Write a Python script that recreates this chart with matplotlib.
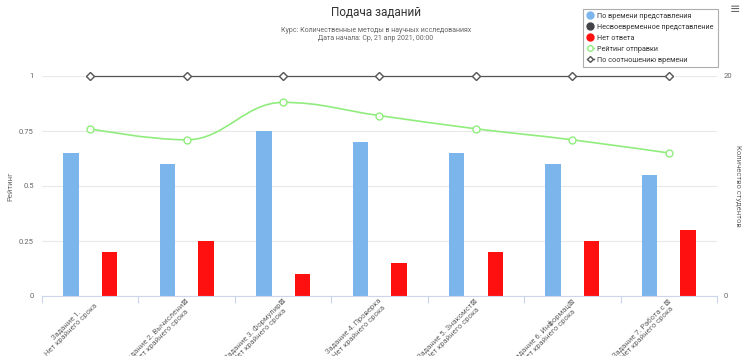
import matplotlib
matplotlib.use("Agg")
import matplotlib.pyplot as plt
import matplotlib.transforms as mtransforms
import numpy as np
from matplotlib.path import Path
from matplotlib.patches import PathPatch
from matplotlib.lines import Line2D

plt.rcParams['font.family'] = ['Roboto', 'DejaVu Sans']

categories = [
    "Задание 1.\nНет крайнего срока",
    "Задание 2. Вычислени⊠\nНет крайнего срока",
    "Задание 3. Формулир⊠\nНет крайнего срока",
    "Задание 4. Проверка\nНет крайнего срока",
    "Задание 5. Знакомст⊠\nНет крайнего срока",
    "Задание 6. Информац⊠\nНет крайнего срока",
    "Задание 7. Работа с ⊠\nНет крайнего срока",
]
on_time = [13, 12, 15, 14, 13, 12, 11]
late = [0, 0, 0, 0, 0, 0, 0]
no_answer = [4, 5, 2, 3, 4, 5, 6]
rating = [0.76, 0.71, 0.88, 0.82, 0.76, 0.71, 0.65]
time_ratio = [1, 1, 1, 1, 1, 1, 1]
left_ticks = [0, 0.25, 0.5, 0.75, 1]
left_labels = ["0", "0.25", "0.5", "0.75", "1"]
right_ticks = [0, 5, 10, 15, 20]
right_labels = ["0", "", "", "", "20"]

C_BLUE = "#7cb5ec"
C_BLACK = "#434348"
C_RED = "#ff1010"
C_GREEN = "#90ed7d"
C_GRAY = "#555555"

fig = plt.figure(figsize=(7.43, 3.56), dpi=100)
ax = fig.add_axes([42/743, 60/356, 675/743, 220/356])
ax2 = ax.twinx()
ax.set_zorder(ax2.get_zorder() + 1)
ax.patch.set_visible(False)

x = np.arange(len(categories))
w = 0.16
ax2.bar(x - 0.2, on_time, w, color=C_BLUE, zorder=2)
ax2.bar(x, late, w, color=C_BLACK, zorder=2)
ax2.bar(x + 0.2, no_answer, w, color=C_RED, zorder=2)
ax2.set_ylim(0, 20)
ax2.set_yticks(right_ticks)
ax2.set_yticklabels(right_labels)
ax2.yaxis.grid(True, color="#e9e9e9", linewidth=0.8)
ax2.set_axisbelow(True)
ax2.tick_params(axis="y", length=0, labelsize=5.5, labelcolor="#666666", pad=5)
ax2.set_ylabel("Количество студентов", rotation=-90, fontsize=5.5, color="#666666",
               va="center")
ax2.yaxis.set_label_coords((738 - 42) / 675, 0.5)

ax.set_xlim(-0.5, len(categories) - 0.5)
ax.set_ylim(0, 1)
ax.set_yticks(left_ticks)
ax.set_yticklabels(left_labels)
ax.tick_params(axis="y", length=0, labelsize=5.5, labelcolor="#666666", pad=6)
ax.set_ylabel("Рейтинг", fontsize=5.5, color="#666666", va="center")
ax.yaxis.set_label_coords((10 - 42) / 675, 0.5)

# category boundaries ticks
ax.set_xticks(np.arange(-0.5, len(categories) + 0.5, 1), minor=False)
ax.set_xticklabels([])
ax.tick_params(axis="x", which="major", length=5, color="#ccd6eb", width=0.8)
ax.set_xticks(x, minor=True)
ax.set_xticklabels(categories, minor=True, rotation=45, ha="right", va="top",
                   rotation_mode="anchor", fontsize=5.5, color="#666666",
                   multialignment="center")
ax.tick_params(axis="x", which="minor", length=0, pad=1)
offset = mtransforms.ScaledTranslation(-1 / 100, 0, fig.dpi_scale_trans)
for lbl in ax.xaxis.get_minorticklabels():
    lbl.set_transform(lbl.get_transform() + offset)

for s in ["top", "left", "right"]:
    ax.spines[s].set_visible(False)
    ax2.spines[s].set_visible(False)
ax.spines["bottom"].set_color("#ccd6eb")
ax.spines["bottom"].set_linewidth(0.8)
ax2.spines["bottom"].set_visible(False)

# Highcharts-style spline for rating
def spline_path(xs, ys, smoothing=1.5):
    n = len(xs)
    denom = smoothing + 1
    lc = [(xs[i], ys[i]) for i in range(n)]
    rc = [(xs[i], ys[i]) for i in range(n)]
    for i in range(1, n - 1):
        px, py = xs[i - 1], ys[i - 1]
        nx, ny = xs[i + 1], ys[i + 1]
        lcx = (smoothing * xs[i] + px) / denom
        lcy = (smoothing * ys[i] + py) / denom
        rcx = (smoothing * xs[i] + nx) / denom
        rcy = (smoothing * ys[i] + ny) / denom
        if rcx != lcx:
            corr = ((rcy - lcy) * (rcx - xs[i])) / (rcx - lcx) + ys[i] - rcy
            lcy += corr
            rcy += corr
        if lcy > max(py, ys[i]):
            lcy = max(py, ys[i]); rcy = 2 * ys[i] - lcy
        elif lcy < min(py, ys[i]):
            lcy = min(py, ys[i]); rcy = 2 * ys[i] - lcy
        if rcy > max(ny, ys[i]):
            rcy = max(ny, ys[i]); lcy = 2 * ys[i] - rcy
        elif rcy < min(ny, ys[i]):
            rcy = min(ny, ys[i]); lcy = 2 * ys[i] - rcy
        lc[i] = (lcx, lcy)
        rc[i] = (rcx, rcy)
    verts = [(xs[0], ys[0])]
    codes = [Path.MOVETO]
    for i in range(1, n):
        verts += [rc[i - 1], lc[i], (xs[i], ys[i])]
        codes += [Path.CURVE4] * 3
    return Path(verts, codes)

ax.add_patch(PathPatch(spline_path(list(x.astype(float)), rating), facecolor="none",
                       edgecolor=C_GREEN, linewidth=1.2, zorder=3))
ax.plot(x, rating, linestyle="none", marker="o", markersize=5, markerfacecolor="white",
        markeredgecolor=C_GREEN, markeredgewidth=1, zorder=4, clip_on=False)
ax.plot(x, time_ratio, color=C_GRAY, linewidth=0.9, marker="D", markersize=3.6,
        markerfacecolor="white", markeredgecolor=C_GRAY, markeredgewidth=1,
        zorder=4, clip_on=False)

fig.text(0.506, 1 - 12/356, "Подача заданий", ha="center", va="center",
         fontsize=8.5, color="#333333")
fig.text(0.506, 1 - 30/356, "Курс: Количественные методы в научных исследованиях",
         ha="center", va="center", fontsize=5, color="#666666")
fig.text(0.506, 1 - 39/356, "Дата начала: Ср, 21 апр 2021, 00:00",
         ha="center", va="center", fontsize=5, color="#666666")
fig.text(735/743, 1 - 9/356, "≡", ha="center", va="center", fontsize=9, color="#666666",
         family="DejaVu Sans")

handles = [
    Line2D([], [], linestyle="none", marker="o", markersize=5, color=C_BLUE),
    Line2D([], [], linestyle="none", marker="o", markersize=5, color=C_BLACK),
    Line2D([], [], linestyle="none", marker="o", markersize=5, color=C_RED),
    Line2D([], [], color=C_GREEN, linewidth=1, marker="o", markersize=4,
           markerfacecolor="white", markeredgecolor=C_GREEN),
    Line2D([], [], color=C_GRAY, linewidth=1, marker="D", markersize=3,
           markerfacecolor="white", markeredgecolor=C_GRAY),
]
labels = ["По времени представления", "Несвоевременное представление", "Нет ответа",
          "Рейтинг отправки", "По соотношению времени"]
leg = fig.legend(handles, labels, loc="upper left", bbox_to_anchor=(583/743, 1 - 9/356),
                 fontsize=5.2, frameon=True, fancybox=False, handlelength=1.0,
                 handletextpad=0.5, labelspacing=0.55, borderpad=0.5,
                 borderaxespad=0, edgecolor="#999999", labelcolor="#333333")
leg.get_frame().set_linewidth(0.8)

fig.savefig("out.png", dpi=100)
